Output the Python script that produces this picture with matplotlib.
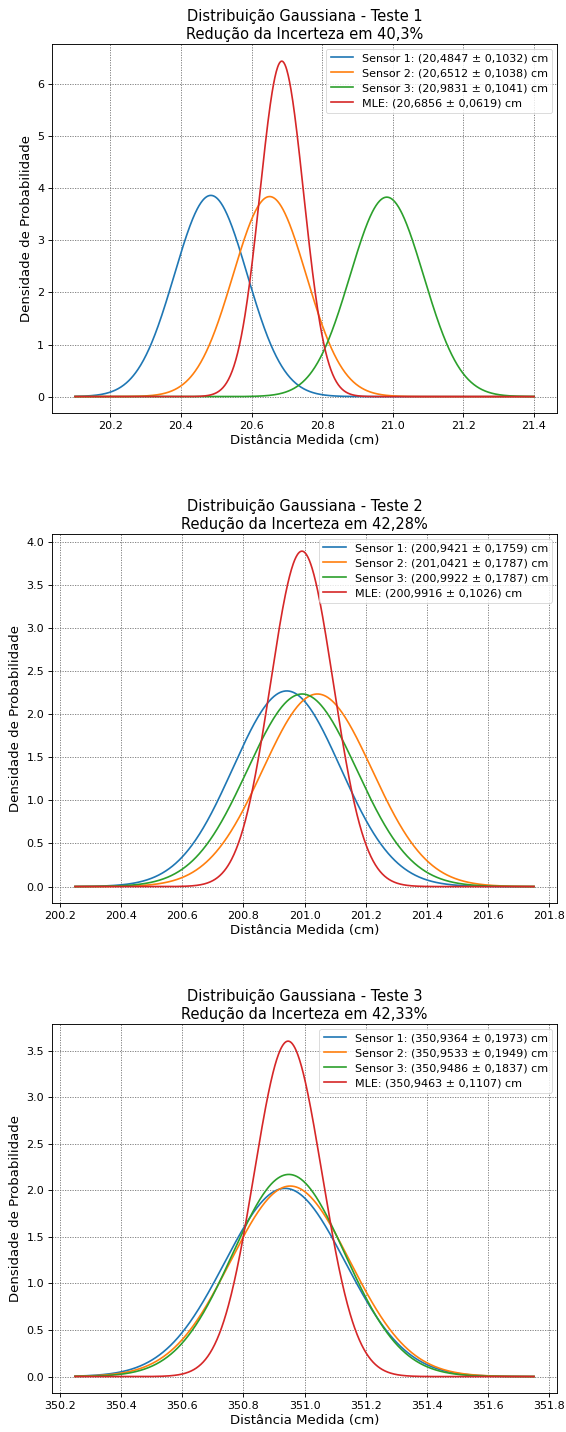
import numpy as np
import matplotlib
matplotlib.use("Agg")
import matplotlib.pyplot as plt

tests = ["Teste 1", "Teste 2", "Teste 3"]
reductions = ["40,3%", "42,28%", "42,33%"]
labels = ["Sensor 1", "Sensor 2", "Sensor 3", "MLE"]

means_t1 = [20.4847, 20.6512, 20.9831, 20.6856]
sigmas_t1 = [0.1032, 0.1038, 0.1041, 0.0619]
means_t2 = [200.9421, 201.0421, 200.9922, 200.9916]
sigmas_t2 = [0.1759, 0.1787, 0.1787, 0.1026]
means_t3 = [350.9364, 350.9533, 350.9486, 350.9463]
sigmas_t3 = [0.1973, 0.1949, 0.1837, 0.1107]

x_ranges = [(20.1, 21.4), (200.25, 201.75), (350.25, 351.75)]

all_means = [means_t1, means_t2, means_t3]
all_sigmas = [sigmas_t1, sigmas_t2, sigmas_t3]
colors = ["#1f77b4", "#ff7f0e", "#2ca02c", "#d62728"]


def fmt(v):
    return f"{v:.4f}".replace(".", ",")


def gauss(x, mu, s):
    return np.exp(-0.5 * ((x - mu) / s) ** 2) / (s * np.sqrt(2 * np.pi))


fig, axes = plt.subplots(3, 1, figsize=(5.66, 14.32), dpi=100)
plt.subplots_adjust(left=0.092, right=0.984, top=0.969, bottom=0.027, hspace=0.328)

for i, ax in enumerate(axes):
    x = np.linspace(x_ranges[i][0], x_ranges[i][1], 1000)
    for j in range(4):
        mu, s = all_means[i][j], all_sigmas[i][j]
        ax.plot(x, gauss(x, mu, s), color=colors[j], lw=1.2,
                label=f"{labels[j]}: ({fmt(mu)} ± {fmt(s)}) cm")
    ax.set_title(f"Distribuição Gaussiana - {tests[i]}\nRedução da Incerteza em {reductions[i]}",
                 fontsize=10.5, pad=4)
    ax.set_xlabel("Distância Medida (cm)", fontsize=9.5, labelpad=2)
    ax.set_ylabel("Densidade de Probabilidade", fontsize=9.5, labelpad=3)
    ax.tick_params(labelsize=8, width=0.65, length=2.8, pad=2.8)
    for sp in ax.spines.values():
        sp.set_linewidth(0.65)
    ax.grid(True, color="0.45", linestyle=(0, (1.5, 1.5)), linewidth=0.6)
    leg = ax.legend(loc="upper right", fontsize=8, handlelength=2.0,
                    borderaxespad=0.4, labelspacing=0.45)
    leg.get_frame().set_linewidth(0.6)

plt.savefig("out.png", dpi=100)
